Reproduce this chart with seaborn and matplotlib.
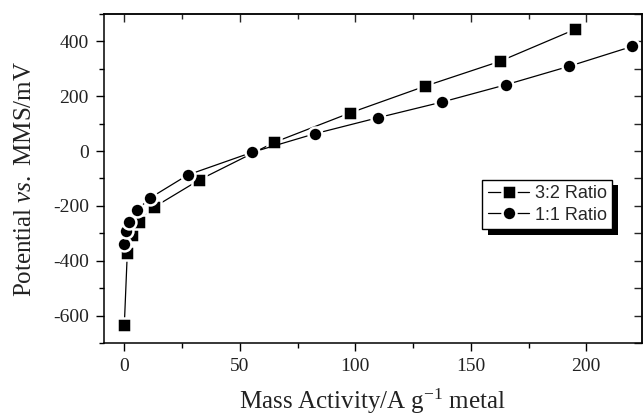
import numpy as np
import pandas as pd
import matplotlib
matplotlib.use('Agg')
import matplotlib.pyplot as plt
import matplotlib.patheffects as pe
from matplotlib.ticker import MultipleLocator
from matplotlib.lines import Line2D
import seaborn as sns

# 3:2 ratio
x_32 = [0.0, 1.3, 3.2, 6.5, 13.0, 32.5, 65.0, 97.7, 130.0, 162.5, 195.2]
y_32 = [-635, -370, -305, -257, -204, -105, 32, 139, 236, 327, 444]
# 1:1 ratio
x_11 = [0.0, 0.7, 2.0, 5.5, 11.0, 27.5, 55.2, 82.4, 110.0, 137.7, 165.3, 192.5, 220.0]
y_11 = [-339, -293, -258, -216, -172, -87, -5, 63, 122, 179, 242, 309, 382]

labels = ['3:2 Ratio', '1:1 Ratio']

sns.set_theme(style='ticks')
plt.rcParams['font.family'] = ['Liberation Serif', 'DejaVu Serif']
plt.rcParams['mathtext.fontset'] = 'custom'
plt.rcParams['mathtext.rm'] = 'Liberation Serif'
plt.rcParams['mathtext.it'] = 'Liberation Serif:italic'
plt.rcParams['axes.unicode_minus'] = False

fig = plt.figure(figsize=(6.43, 4.17), dpi=100)
ax = fig.add_axes([0.161, 0.1775, 0.837, 0.789])

df32 = pd.DataFrame({'x': x_32, 'y': y_32})
df11 = pd.DataFrame({'x': x_11, 'y': y_11})

mstyle = dict(color='black', linewidth=0.9, markersize=10,
              markeredgecolor='white', markeredgewidth=1.8, estimator=None)
sns.lineplot(data=df32, x='x', y='y', marker='s', ax=ax, **mstyle)
sns.lineplot(data=df11, x='x', y='y', marker='o', ax=ax, **mstyle)

ax.set_xlim(-9, 224)
ax.set_ylim(-700, 500)
ax.xaxis.set_major_locator(MultipleLocator(50))
ax.xaxis.set_minor_locator(MultipleLocator(25))
ax.yaxis.set_major_locator(MultipleLocator(200))
ax.yaxis.set_minor_locator(MultipleLocator(100))

for s in ax.spines.values():
    s.set_linewidth(1.1)
    s.set_color('black')

ax.tick_params(axis='both', which='both', colors='black', width=1.0,
               labelsize=14, labelcolor='#222222')
ax.tick_params(axis='both', which='major', length=5.5, direction='out', pad=5)
ax.tick_params(axis='both', which='minor', length=3.5, direction='out')
# top and right: ticks pointing inward, no labels
sec_x = ax.secondary_xaxis('top')
sec_x.xaxis.set_major_locator(MultipleLocator(50))
sec_x.xaxis.set_minor_locator(MultipleLocator(25))
sec_x.tick_params(which='major', direction='in', length=5.5, width=1.0, labeltop=False)
sec_x.tick_params(which='minor', direction='in', length=3.5, width=1.0)
sec_x.spines['top'].set_linewidth(1.1)
sec_y = ax.secondary_yaxis('right')
sec_y.yaxis.set_major_locator(MultipleLocator(200))
sec_y.yaxis.set_minor_locator(MultipleLocator(100))
sec_y.tick_params(which='major', direction='in', length=5.5, width=1.0, labelright=False)
sec_y.tick_params(which='minor', direction='in', length=5.5, width=1.0)
sec_y.spines['right'].set_linewidth(1.1)

ax.set_xlabel(r'$\mathrm{Mass\ Activity/A\ g^{-1}\ metal}$', fontsize=18,
              color='#222222', labelpad=9)
ax.set_ylabel(r'$\mathrm{Potential}\ \mathit{vs.}\ \mathrm{MMS/mV}$', fontsize=18,
              color='#222222', labelpad=12)

handles = [
    Line2D([], [], color='black', linewidth=0.9, marker='s', markersize=9.5,
           markeredgecolor='white', markeredgewidth=1.8),
    Line2D([], [], color='black', linewidth=0.9, marker='o', markersize=10,
           markeredgecolor='white', markeredgewidth=1.8),
]
leg = ax.legend(handles, labels, loc='lower right', bbox_to_anchor=(0.945, 0.3465),
                borderaxespad=0, fancybox=False, framealpha=1, edgecolor='black',
                handlelength=2.3, handletextpad=0.3, borderpad=0.3, labelspacing=0.25,
                prop={'family': 'Liberation Sans', 'size': 13})
frame = leg.get_frame()
frame.set_linewidth(1.0)
frame.set_path_effects([pe.SimplePatchShadow(offset=(4, -4), shadow_rgbFace='black', alpha=1),
                        pe.Normal()])

fig.savefig('out.png', dpi=100)
